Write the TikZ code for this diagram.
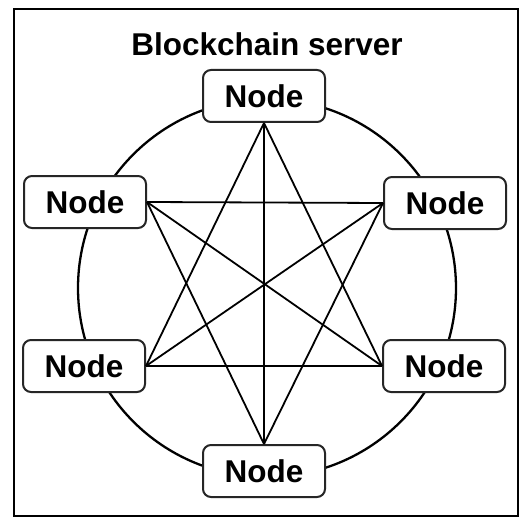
\documentclass[tikz,border=0pt]{standalone}
\usepackage{fontspec}
\setmainfont{Liberation Sans}
\begin{document}
\begin{tikzpicture}[x=1pt,y=-1pt,
  nodebox/.style={draw=black!85, line width=2pt, rounded corners=8pt, fill=white,
    minimum width=122pt, minimum height=52pt, inner sep=0pt,
    font=\fontsize{31.5}{36}\selectfont\bfseries},
  link/.style={line width=1.8pt, black}]
\useasboundingbox (0,0) rectangle (520,519);
\fill[white] (0,0) rectangle (520,519);
\draw[line width=2pt] (14,9) rectangle (518,516);
\node[font=\fontsize{31.5}{36}\selectfont\bfseries] (title) at (267,44) {Blockchain server};
\draw[line width=2.3pt] (267,288) circle (189);
\node[nodebox] (top) at (264,96) {Node};
\node[nodebox] (tl) at (85,202) {Node};
\node[nodebox] (tr) at (445,203) {Node};
\node[nodebox] (bl) at (84,366) {Node};
\node[nodebox] (br) at (444,366) {Node};
\node[nodebox] (bot) at (264,471) {Node};
\draw[link] (top.south) -- (bl.east);
\draw[link] (top.south) -- (br.west);
\draw[link] (bl.east) -- (br.west);
\draw[link] (tl.east) -- (tr.west);
\draw[link] (tl.east) -- (bot.north);
\draw[link] (tr.west) -- (bot.north);
\draw[link] (top.south) -- (bot.north);
\draw[link] (tl.east) -- (br.west);
\draw[link] (tr.west) -- (bl.east);
\end{tikzpicture}
\end{document}
